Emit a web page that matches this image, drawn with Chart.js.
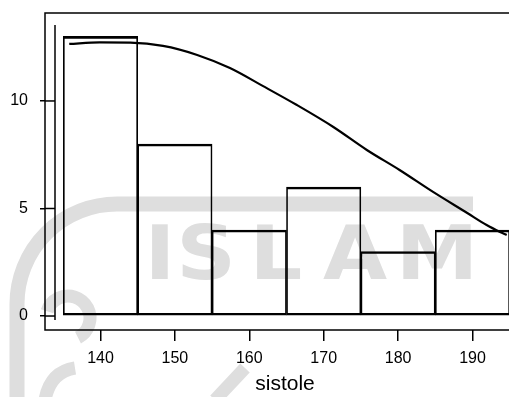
<!DOCTYPE html>
<html lang="en">
<head>
    <meta charset="UTF-8">
    <title>Histogram sistole</title>
    <script src="https://cdn.jsdelivr.net/npm/chart.js"></script>
    <style>
        body {
            margin: 0;
            background: #fff;
            overflow: hidden;
            font-family: "Liberation Sans", Arial, sans-serif;
        }
        #wrap {
            position: absolute;
            left: 0;
            top: 0;
        }
    </style>
</head>
<body>

<div id="wrap">
    <canvas id="chartCanvas" width="530" height="397"></canvas>
</div>

<script>
    // histogram bins (centre of each 10-wide class) and counts
    const binMids = [140, 150, 160, 170, 180, 190];
    const counts = [13, 8, 4, 6, 3, 4];

    // fitted curve
    const curveX = [135.8, 139.9, 144.0, 148.4, 153.0, 157.4, 161.8, 166.4, 171.3, 175.8, 180.2, 184.7, 189.3, 191.9, 193.7, 194.6];
    const curveY = [12.65, 12.72, 12.71, 12.56, 12.14, 11.53, 10.70, 9.81, 8.79, 7.72, 6.79, 5.77, 4.79, 4.23, 3.91, 3.77];

    const xTicks = [140, 150, 160, 170, 180, 190];
    const yTicks = [0, 5, 10];

    const FONT = '"Liberation Sans", Arial, sans-serif';
    const WM = '#dedede';

    // faint scanned watermark + frame / offset y axis
    const decor = {
        id: 'decor',
        beforeDraw(chart) {
            const ctx = chart.ctx;
            ctx.save();
            ctx.strokeStyle = WM;
            ctx.lineWidth = 15;
            ctx.lineCap = 'butt';
            // outer ring of the logo
            ctx.beginPath();
            ctx.moveTo(17, 400);
            ctx.lineTo(17, 304);
            ctx.arcTo(17, 204, 117, 204, 100);
            ctx.lineTo(473, 204);
            ctx.stroke();
            // inner strokes
            ctx.lineWidth = 13;
            ctx.beginPath();
            ctx.arc(68, 318, 22, Math.PI * 1.1, Math.PI * 0.35);
            ctx.stroke();
            ctx.beginPath();
            ctx.moveTo(45, 400);
            ctx.quadraticCurveTo(50, 372, 75, 368);
            ctx.stroke();
            ctx.beginPath();
            ctx.moveTo(215, 400);
            ctx.lineTo(245, 368);
            ctx.stroke();
            // ISLAM lettering
            ctx.fillStyle = WM;
            ctx.font = 'bold 74px "DejaVu Sans", ' + FONT;
            ctx.textAlign = 'center';
            ctx.textBaseline = 'alphabetic';
            const letters = ['I', 'S', 'L', 'A', 'M'];
            const lx = [160, 206, 276, 355, 437];
            letters.forEach((ch, i) => {
                ctx.save();
                ctx.translate(lx[i], 279);
                ctx.scale(1.12, 1);
                ctx.fillText(ch, 0, 0);
                ctx.restore();
            });
            ctx.restore();
        },
        afterDraw(chart) {
            const ctx = chart.ctx;
            const a = chart.chartArea;
            const y = chart.scales.y;
            ctx.save();
            ctx.strokeStyle = '#000';
            ctx.lineWidth = 1.5;
            ctx.strokeRect(a.left, a.top, a.right - a.left, a.bottom - a.top);
            // inner axis line
            const ix = a.left + 10;
            ctx.beginPath();
            ctx.moveTo(ix, a.top + 12);
            ctx.lineTo(ix, a.bottom - 10);
            ctx.stroke();
            // tick marks continue to the inner line
            yTicks.forEach(v => {
                const py = y.getPixelForValue(v);
                ctx.beginPath();
                ctx.moveTo(a.left, py);
                ctx.lineTo(ix, py);
                ctx.stroke();
            });
            ctx.restore();
        }
    };

    const chart = new Chart(document.getElementById('chartCanvas'), {
        type: 'bar',
        data: {
            datasets: [{
                type: 'line',
                data: curveX.map((x, i) => ({ x, y: curveY[i] })),
                borderColor: '#000',
                borderWidth: 2.2,
                pointRadius: 0,
                cubicInterpolationMode: 'monotone',
                fill: false,
                order: 0
            }, {
                type: 'bar',
                data: binMids.map((x, i) => ({ x, y: counts[i] })),
                backgroundColor: 'rgba(0,0,0,0)',
                borderColor: '#000',
                borderWidth: { top: 2, left: 1, right: 1, bottom: 2 },
                borderSkipped: false,
                barPercentage: 1,
                categoryPercentage: 1,
                order: 1
            }]
        },
        options: {
            responsive: false,
            animation: false,
            layout: { padding: { top: 13, right: 5, left: 0, bottom: 0 } },
            plugins: {
                legend: { display: false },
                tooltip: { enabled: false }
            },
            scales: {
                x: {
                    type: 'linear',
                    min: 132.54,
                    max: 197.06,
                    offset: false,
                    afterBuildTicks: s => { s.ticks = xTicks.map(v => ({ value: v })); },
                    afterFit: s => { s.height = 67; s.paddingLeft = 0; s.paddingRight = 0; },
                    grid: {
                        offset: false,
                        drawOnChartArea: false,
                        tickLength: 11,
                        color: '#000',
                        lineWidth: 1.5
                    },
                    border: { display: false },
                    ticks: {
                        color: '#000',
                        padding: 8,
                        maxRotation: 0,
                        font: { family: FONT, size: 16 }
                    },
                    title: {
                        display: true,
                        text: 'sistole',
                        color: '#000',
                        padding: { top: 0, bottom: 0 },
                        font: { family: FONT, size: 21 }
                    }
                },
                y: {
                    min: -0.65,
                    max: 14.09,
                    afterBuildTicks: s => { s.ticks = yTicks.map(v => ({ value: v })); },
                    afterFit: s => { s.width = 45; s.paddingTop = 0; s.paddingBottom = 0; },
                    grid: {
                        drawOnChartArea: false,
                        tickLength: 5,
                        color: '#000',
                        lineWidth: 1.5
                    },
                    border: { display: false },
                    ticks: {
                        color: '#000',
                        padding: 12,
                        font: { family: FONT, size: 16 }
                    }
                }
            }
        },
        plugins: [decor]
    });
</script>

</body>
</html>
